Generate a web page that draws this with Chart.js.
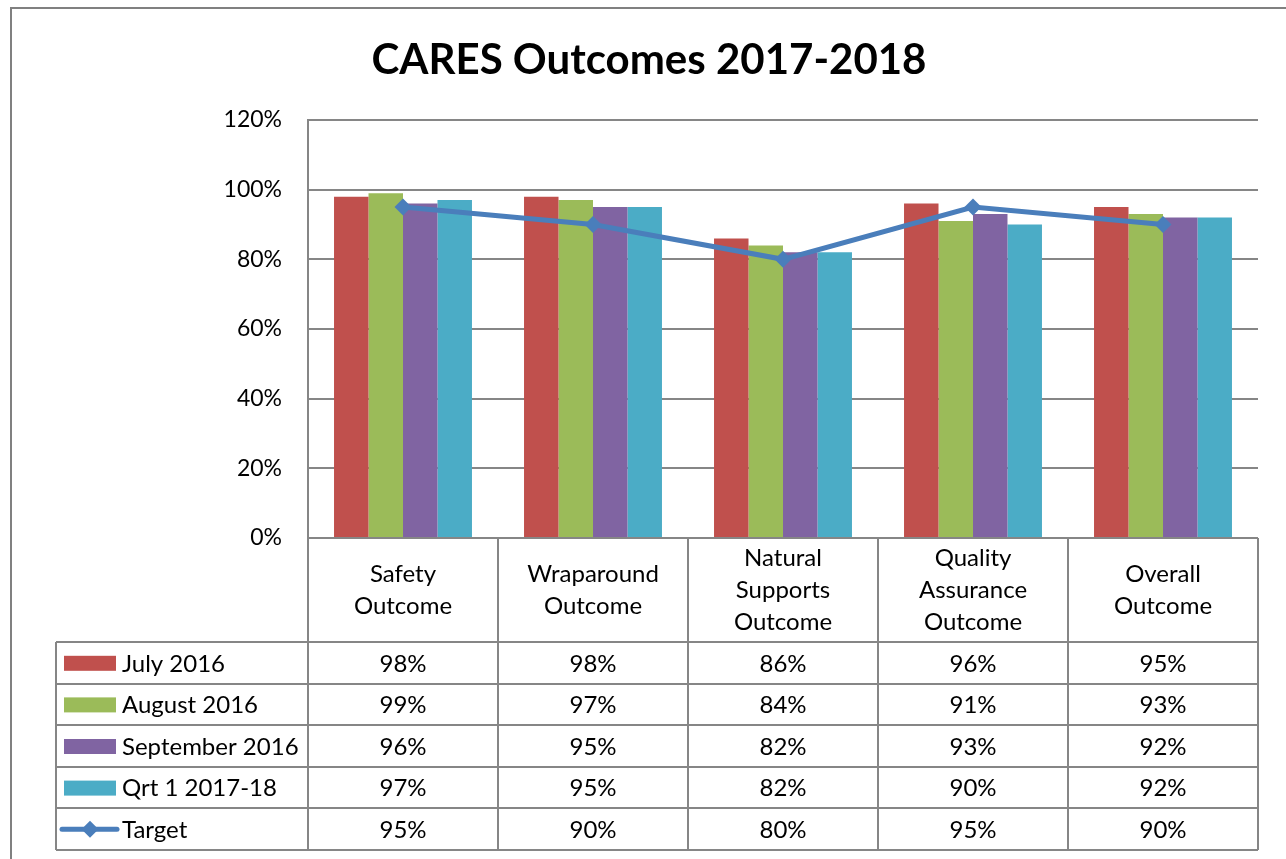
<!DOCTYPE html>
<html>
<head>
<meta charset="utf-8">
<script src="https://cdn.jsdelivr.net/npm/chart.js@4.4.1/dist/chart.umd.min.js"></script>
<style>
html,body{margin:0;padding:0;background:#fff;}
#wrap{width:1286px;height:859px;position:relative;}
</style>
</head>
<body>
<div id="wrap"><canvas id="c" width="1286" height="859"></canvas></div>
<script>
const chartTitle = 'CARES Outcomes 2017-2018';
const categories = [['Safety','Outcome'], ['Wraparound','Outcome'], ['Natural','Supports','Outcome'], ['Quality','Assurance','Outcome'], ['Overall','Outcome']];
const seriesNames = ['July 2016', 'August 2016', 'September 2016', 'Qrt 1 2017-18', 'Target'];
const july2016 = [98, 98, 86, 96, 95];
const august2016 = [99, 97, 84, 91, 93];
const september2016 = [96, 95, 82, 93, 92];
const qrt1_2017_18 = [97, 95, 82, 90, 92];
const target = [95, 90, 80, 95, 90];
const yMin = 0, yMax = 120, yStep = 20;

const colors = ['#C0504D', '#9BBB59', '#8064A2', '#4BACC6', '#4A7EBB'];
const FONT = 'Lato, "Open Sans", sans-serif';
const GRID = '#868686';

const tablePlugin = {
  id: 'dataTable',
  afterDraw(chart) {
    const ctx = chart.ctx;
    const xs = chart.scales.x;
    const area = chart.chartArea;
    const n = chart.data.labels.length;
    const colW = (area.right - area.left) / n;
    const headerTop = area.bottom;
    const headerBottom = 642;
    const rowH = 41.6;
    const nRows = chart.data.datasets.length;
    const tableBottom = headerBottom + rowH * nRows;
    const tableLeft = 56;
    ctx.save();
    // outer border
    ctx.strokeStyle = '#808080';
    ctx.lineWidth = 2;
    ctx.beginPath();
    ctx.moveTo(11, 859); ctx.lineTo(11, 8); ctx.lineTo(1286, 8);
    ctx.stroke();
    // grid lines of the table
    ctx.strokeStyle = GRID;
    ctx.lineWidth = 2;
    ctx.beginPath();
    for (let i = 0; i <= n; i++) {
      const x = Math.round(area.left + i * colW);
      ctx.moveTo(x, headerTop); ctx.lineTo(x, tableBottom);
    }
    ctx.moveTo(tableLeft, headerBottom); ctx.lineTo(tableLeft, tableBottom);
    ctx.moveTo(area.left, headerTop); ctx.lineTo(area.right, headerTop);
    for (let r = 0; r <= nRows; r++) {
      const y = Math.round(headerBottom + r * rowH);
      ctx.moveTo(tableLeft, y); ctx.lineTo(area.right, y);
    }
    ctx.stroke();
    // header labels
    ctx.fillStyle = '#000';
    ctx.font = '24px ' + FONT;
    ctx.textAlign = 'center';
    ctx.textBaseline = 'middle';
    const hMid = (headerTop + headerBottom) / 2;
    const lh = 32;
    chart.data.labels.forEach((lab, i) => {
      const cx = xs.getPixelForValue(i);
      const lines = Array.isArray(lab) ? lab : [lab];
      lines.forEach((t, k) => {
        ctx.fillText(t, cx, hMid + (k - (lines.length - 1) / 2) * lh);
      });
    });
    // rows
    chart.data.datasets.forEach((ds, r) => {
      const cy = headerBottom + rowH * (r + 0.5);
      ctx.textAlign = 'center';
      ds.data.forEach((v, i) => {
        ctx.fillText(v + '%', xs.getPixelForValue(i), cy + 1);
      });
      // legend key
      if (ds.type === 'line') {
        ctx.strokeStyle = ds.borderColor;
        ctx.lineWidth = 5;
        ctx.lineCap = 'round';
        ctx.beginPath(); ctx.moveTo(62, cy); ctx.lineTo(117, cy); ctx.stroke();
        ctx.fillStyle = ds.borderColor;
        ctx.beginPath();
        ctx.moveTo(90, cy - 8.5); ctx.lineTo(98.5, cy); ctx.lineTo(90, cy + 8.5); ctx.lineTo(81.5, cy);
        ctx.closePath(); ctx.fill();
      } else {
        ctx.fillStyle = ds.backgroundColor;
        ctx.fillRect(64, cy - 7, 52, 15);
      }
      ctx.fillStyle = '#000';
      ctx.textAlign = 'left';
      ctx.fillText(ds.label, 122, cy + 1);
    });
    ctx.restore();
  }
};

const barSets = [july2016, august2016, september2016, qrt1_2017_18].map((d, i) => ({
  type: 'bar',
  label: seriesNames[i],
  data: d,
  backgroundColor: colors[i],
  borderWidth: 0,
  categoryPercentage: 0.726,
  barPercentage: 1.0,
  order: 2
}));

new Chart(document.getElementById('c'), {
  data: {
    labels: categories,
    datasets: [...barSets, {
      type: 'line',
      label: seriesNames[4],
      data: target,
      borderColor: colors[4],
      backgroundColor: colors[4],
      borderWidth: 5,
      pointStyle: 'rectRot',
      pointRadius: 8.5,
      pointHoverRadius: 8.5,
      pointBackgroundColor: colors[4],
      pointBorderWidth: 0,
      tension: 0,
      order: 0
    }]
  },
  options: {
    responsive: false,
    animation: false,
    layout: { padding: { left: 40, right: 28, top: 0, bottom: 0 } },
    plugins: {
      legend: { display: false },
      tooltip: { enabled: false },
      title: {
        display: true,
        text: chartTitle,
        color: '#000',
        font: { family: FONT, size: 42, weight: 'bold', lineHeight: 1.2 },
        padding: { top: 35, bottom: 34.6 }
      }
    },
    scales: {
      x: {
        grid: { display: false },
        border: { display: false },
        ticks: { display: false },
        afterFit(s) { s.height = 321; }
      },
      y: {
        min: yMin, max: yMax,
        grid: { color: GRID, lineWidth: 2, drawTicks: false },
        border: { display: true, color: GRID, width: 2 },
        ticks: {
          stepSize: yStep,
          padding: 26,
          color: '#000',
          font: { family: FONT, size: 23 },
          callback: v => v + '%'
        },
        afterFit(s) { s.width = 268; }
      }
    }
  },
  plugins: [tablePlugin]
});
</script>
</body>
</html>
